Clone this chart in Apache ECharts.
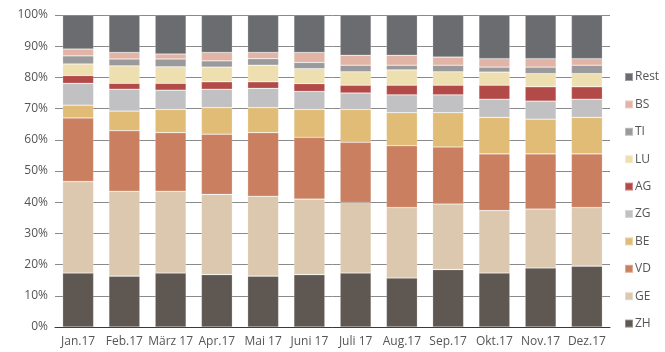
<!DOCTYPE html>
<html>
<head>
<meta charset="utf-8">
<script src="https://cdn.jsdelivr.net/npm/echarts@6/dist/echarts.min.js"></script>
<style>
  html, body { margin: 0; padding: 0; background: #fff; }
  #chart { width: 665px; height: 352px; }
</style>
</head>
<body>
<div id="chart"></div>
<script>
// Monthly share per canton, 2017 (percent of total, stacked to 100%)
const months = ['Jan.17', 'Feb.17', 'März 17', 'Apr.17', 'Mai 17', 'Juni 17', 'Juli 17', 'Aug.17', 'Sep.17', 'Okt.17', 'Nov.17', 'Dez.17'];

const ZH   = [17.3, 16.3, 17.3, 16.8, 16.3, 16.8, 17.3, 15.7, 18.4, 17.3, 18.9, 19.5];
const GE   = [29.3, 27.2, 26.2, 25.7, 25.6, 24.2, 22.6, 22.6, 21.0, 20.0, 18.9, 18.8];
const VD   = [20.4, 19.4, 18.8, 19.3, 20.4, 19.8, 19.3, 19.8, 18.3, 18.2, 17.7, 17.2];
const BE   = [4.1, 6.3, 7.4, 8.5, 8.0, 8.9, 10.5, 10.6, 11.0, 11.7, 11.1, 11.7];
const ZG   = [7.0, 7.0, 6.2, 5.9, 6.2, 5.8, 5.3, 5.7, 5.7, 5.8, 5.8, 5.8];
const AG   = [2.5, 1.9, 2.2, 2.4, 2.1, 2.5, 2.5, 3.1, 3.1, 4.5, 4.6, 4.0];
const LU   = [3.7, 5.6, 5.3, 4.7, 5.3, 4.8, 4.3, 4.9, 4.3, 4.2, 4.2, 4.2];
const TI   = [2.6, 2.2, 2.5, 2.0, 2.1, 2.0, 2.1, 1.5, 2.1, 1.6, 2.1, 2.7];
const BS   = [2.2, 2.1, 1.6, 2.7, 2.0, 3.2, 3.2, 3.2, 2.6, 2.7, 2.7, 2.1];
const Rest = [10.9, 12.0, 12.5, 12.0, 12.0, 12.0, 12.9, 12.9, 13.5, 14.0, 14.0, 14.0];

const yTicks = [0, 10, 20, 30, 40, 50, 60, 70, 80, 90, 100];

// Bottom-to-top stacking order with segment colours
const stackOrder = [
  { name: 'ZH',   data: ZH,   color: '#5f5751' },
  { name: 'GE',   data: GE,   color: '#dcc8af' },
  { name: 'VD',   data: VD,   color: '#ca7f60' },
  { name: 'BE',   data: BE,   color: '#e1bc76' },
  { name: 'ZG',   data: ZG,   color: '#c1c1c3' },
  { name: 'AG',   data: AG,   color: '#b24a48' },
  { name: 'LU',   data: LU,   color: '#eedfb1' },
  { name: 'TI',   data: TI,   color: '#9a9a9d' },
  { name: 'BS',   data: BS,   color: '#e2b4a5' },
  { name: 'Rest', data: Rest, color: '#6b6c70' }
];

const chart = echarts.init(document.getElementById('chart'), null, { renderer: 'canvas' });

const font = '"Open Sans", "Noto Sans", sans-serif';

chart.setOption({
  animation: false,
  backgroundColor: '#ffffff',
  textStyle: { fontFamily: font },
  grid: { left: 55, right: 55, top: 15, bottom: 25, containLabel: false },
  legend: {
    orient: 'vertical',
    left: 619,
    top: 65,
    itemWidth: 8,
    itemHeight: 8,
    itemGap: 13.4,
    icon: 'rect',
    textStyle: { color: '#555', fontSize: 12, fontFamily: font, lineHeight: 14, padding: [0, 0, 0, -3] },
    data: stackOrder.map(s => s.name).reverse()
  },
  xAxis: {
    type: 'category',
    data: months,
    axisLine: { show: true, lineStyle: { color: '#3a3a3a', width: 1 } },
    axisTick: { show: false },
    axisLabel: { color: '#555', fontSize: 12, margin: 9, fontFamily: font, interval: 0 }
  },
  yAxis: {
    type: 'value',
    min: yTicks[0],
    max: yTicks[yTicks.length - 1],
    interval: yTicks[1] - yTicks[0],
    axisLine: { show: false },
    axisTick: { show: false },
    axisLabel: { color: '#555', fontSize: 12, margin: 7, fontFamily: font, formatter: '{value}%' },
    splitLine: { show: true, lineStyle: { color: '#8a8a8a', width: 1 } }
  },
  series: stackOrder.map(s => ({
    name: s.name,
    type: 'bar',
    stack: 'total',
    barCategoryGap: '33%',
    data: s.data,
    itemStyle: { color: s.color, borderColor: 'rgba(255,255,255,0.35)', borderWidth: 0.6 },
    emphasis: { disabled: true }
  }))
});
</script>
</body>
</html>
